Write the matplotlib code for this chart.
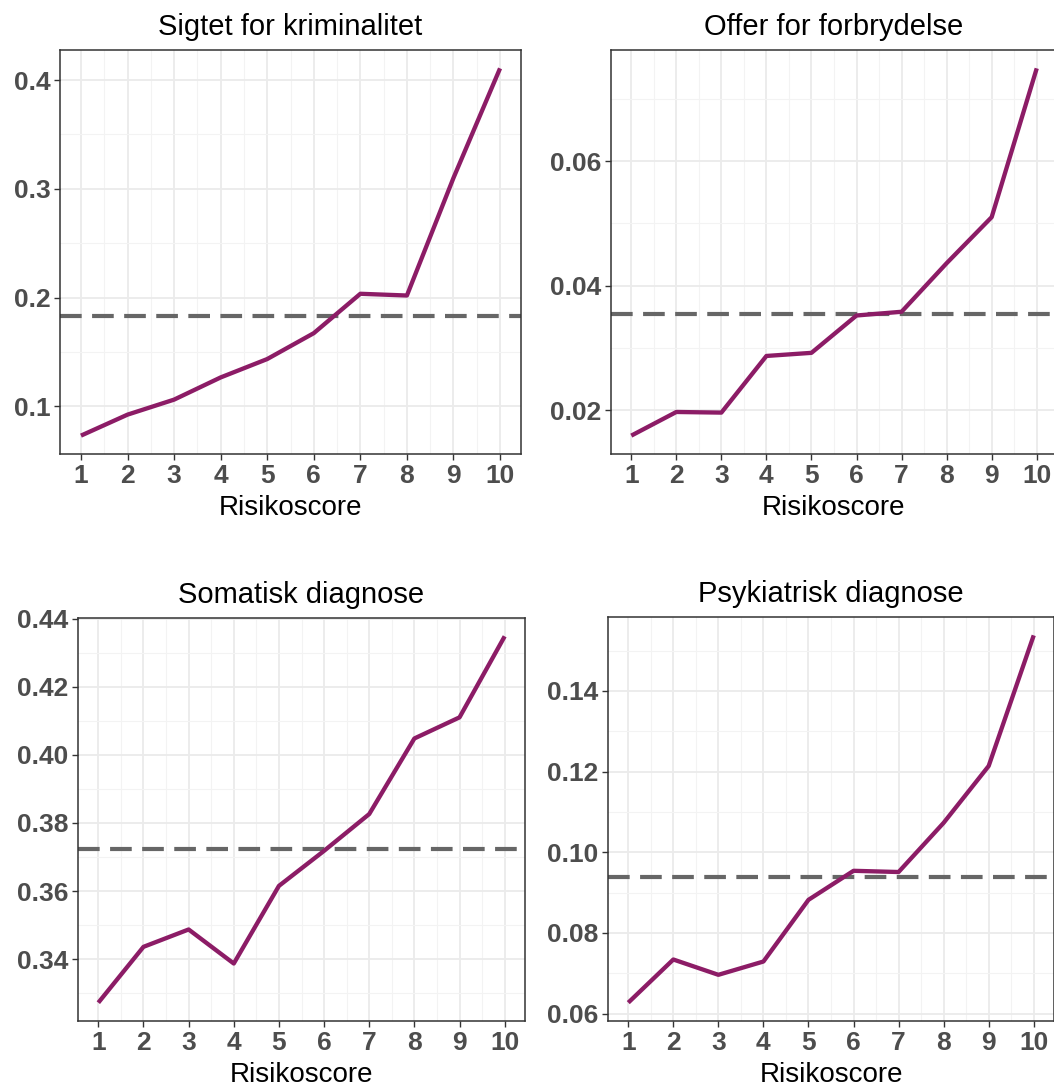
import numpy as np
import matplotlib
matplotlib.use("Agg")
import matplotlib.pyplot as plt
from matplotlib.ticker import MultipleLocator, FormatStrFormatter

plt.rcParams['font.family'] = ['Liberation Sans', 'DejaVu Sans']

risikoscore = list(range(1, 11))

titles = ["Sigtet for kriminalitet", "Offer for forbrydelse",
          "Somatisk diagnose", "Psykiatrisk diagnose"]

sigtet = [0.0731, 0.0924, 0.1062, 0.1266, 0.1435, 0.1673, 0.2035, 0.2019, 0.310, 0.4107]
offer = [0.0159, 0.0197, 0.0196, 0.0287, 0.0292, 0.0352, 0.0358, 0.0436, 0.0510, 0.0749]
somatisk = [0.3272, 0.3436, 0.3487, 0.3387, 0.3615, 0.3718, 0.3826, 0.4048, 0.4110, 0.4348]
psykiatrisk = [0.0627, 0.0734, 0.0696, 0.0729, 0.0882, 0.0954, 0.0951, 0.1073, 0.1214, 0.1538]

gennemsnit = [0.1835, 0.0354, 0.3722, 0.0938]

series = [sigtet, offer, somatisk, psykiatrisk]
y_major = [0.1, 0.02, 0.02, 0.02]
y_fmt = ['%.1f', '%.2f', '%.2f', '%.2f']

W, H = 1054, 1086
fig = plt.figure(figsize=(W / 100, H / 100), dpi=100)

# panel boxes in pixels: left, right, top, bottom
boxes = [(60, 521, 50, 454), (611, 1057, 50, 454),
         (78, 525, 618, 1021), (608, 1054, 617, 1021)]

line_col = '#8c1c66'
for i, (l, r, t, b) in enumerate(boxes):
    ax = fig.add_axes([l / W, 1 - b / H, (r - l) / W, (b - t) / H])
    vals = series[i]
    ax.plot(risikoscore, vals, color=line_col, lw=3.1, solid_capstyle='butt', zorder=3)
    ax.axhline(gennemsnit[i], color='#666666', lw=3, dashes=(5.2, 2.5), zorder=2)

    lo, hi = min(vals), max(vals)
    pad = (hi - lo) * 0.05
    ax.set_ylim(lo - pad, hi + pad)
    ax.set_xlim(0.55, 10.45)

    ax.xaxis.set_major_locator(MultipleLocator(1))
    ax.xaxis.set_minor_locator(MultipleLocator(0.5))
    ax.yaxis.set_major_locator(MultipleLocator(y_major[i]))
    ax.yaxis.set_minor_locator(MultipleLocator(y_major[i] / 2))
    ax.yaxis.set_major_formatter(FormatStrFormatter(y_fmt[i]))

    ax.grid(True, which='major', color='#ebebeb', lw=1.3, zorder=0)
    ax.grid(True, which='minor', color='#f3f3f3', lw=0.8, zorder=0)
    ax.set_axisbelow(True)

    for s in ax.spines.values():
        s.set_color('#333333')
        s.set_linewidth(1.1)

    ax.tick_params(which='major', length=4, width=1, color='#333333',
                   labelsize=19, labelcolor='#4d4d4d', pad=3)
    ax.tick_params(which='minor', length=0)
    for lab in ax.get_xticklabels() + ax.get_yticklabels():
        lab.set_fontweight('bold')

    ax.set_title(titles[i], fontsize=21, color='black', pad=11)
    ax.set_xlabel("Risikoscore", fontsize=20, color='black', labelpad=5)

fig.savefig("out.png", dpi=100)
